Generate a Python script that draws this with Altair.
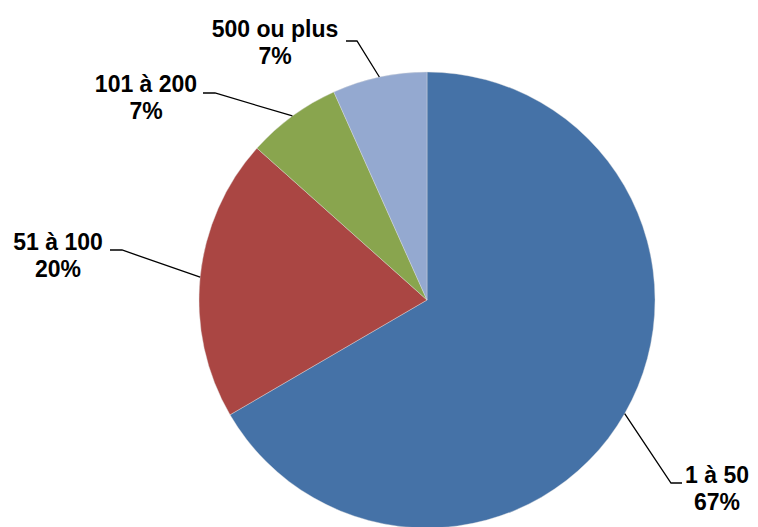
import math
import altair as alt
import pandas as pd

# ---- data ----
categories = ["1 à 50", "51 à 100", "101 à 200", "500 ou plus"]
values = [66.6, 20.0, 6.7, 6.7]
colors = ["#4572A7", "#AA4643", "#89A54E", "#94A9D0"]

# ---- layout (image pixel units) ----
W, H = 742, 511
MARGIN = 8
CX, CY, R = 427, 300, 228
# label center x, first baseline y, elbow point, end point of leader
label_pos = {
    "1 à 50": (717, 483, (671, 483), (682, 483)),
    "51 à 100": (58, 250, (122, 250), (110, 250)),
    "101 à 200": (146, 92, (215, 93), (203, 93)),
    "500 ou plus": (275, 37, (357, 41), (346, 41)),
}

total = sum(values)
pie = pd.DataFrame({"cat": categories, "val": values, "ord": list(range(len(categories)))})

rows_line, rows_text = [], []
cum = 0.0
for c, v in zip(categories, values):
    mid = (cum + v / 2) / total * 2 * math.pi
    cum += v
    sx = CX + R * math.sin(mid)
    sy = CY - R * math.cos(mid)
    lx, ly, el, en = label_pos[c]
    for i, (px, py) in enumerate([(sx, sy), el, en]):
        rows_line.append({"cat": c, "i": i, "x": px, "y": py})
    pct = round(v / total * 100)
    rows_text.append({"cat": c, "x": lx, "y": ly, "label": f"{c}\n{pct}%"})

lines = pd.DataFrame(rows_line)
texts = pd.DataFrame(rows_text)

xs = alt.Scale(domain=[MARGIN, MARGIN + W], nice=False, zero=False)
ys = alt.Scale(domain=[MARGIN, MARGIN + H], nice=False, zero=False, reverse=True)

arc = alt.Chart(pie).mark_arc(radius=R, stroke="#dddddd", strokeWidth=0.4).encode(
    theta=alt.Theta("val:Q", stack=True),
    order=alt.Order("ord:Q"),
    color=alt.Color("cat:N", scale=alt.Scale(domain=categories, range=colors), legend=None),
    x=alt.value(CX - MARGIN),
    y=alt.value(CY - MARGIN),
)

leader = alt.Chart(lines).mark_line(color="black", strokeWidth=1.3).encode(
    x=alt.X("x:Q", scale=xs, axis=None),
    y=alt.Y("y:Q", scale=ys, axis=None),
    detail="cat:N",
    order="i:Q",
)

label = alt.Chart(texts).mark_text(
    font="Liberation Sans", fontWeight="bold", fontSize=23, color="black",
    align="center", baseline="alphabetic", lineBreak="\n", lineHeight=27,
).encode(
    x=alt.X("x:Q", scale=xs, axis=None),
    y=alt.Y("y:Q", scale=ys, axis=None),
    text="label:N",
)

chart = alt.layer(arc, leader, label).properties(
    width=W, height=H,
    padding={"left": 0, "top": 0, "right": 0, "bottom": 8},
    autosize=alt.AutoSizeParams(type="none"),
).configure_view(stroke=None)

chart.save("out.html", embed_options={"renderer": "svg", "actions": False})
